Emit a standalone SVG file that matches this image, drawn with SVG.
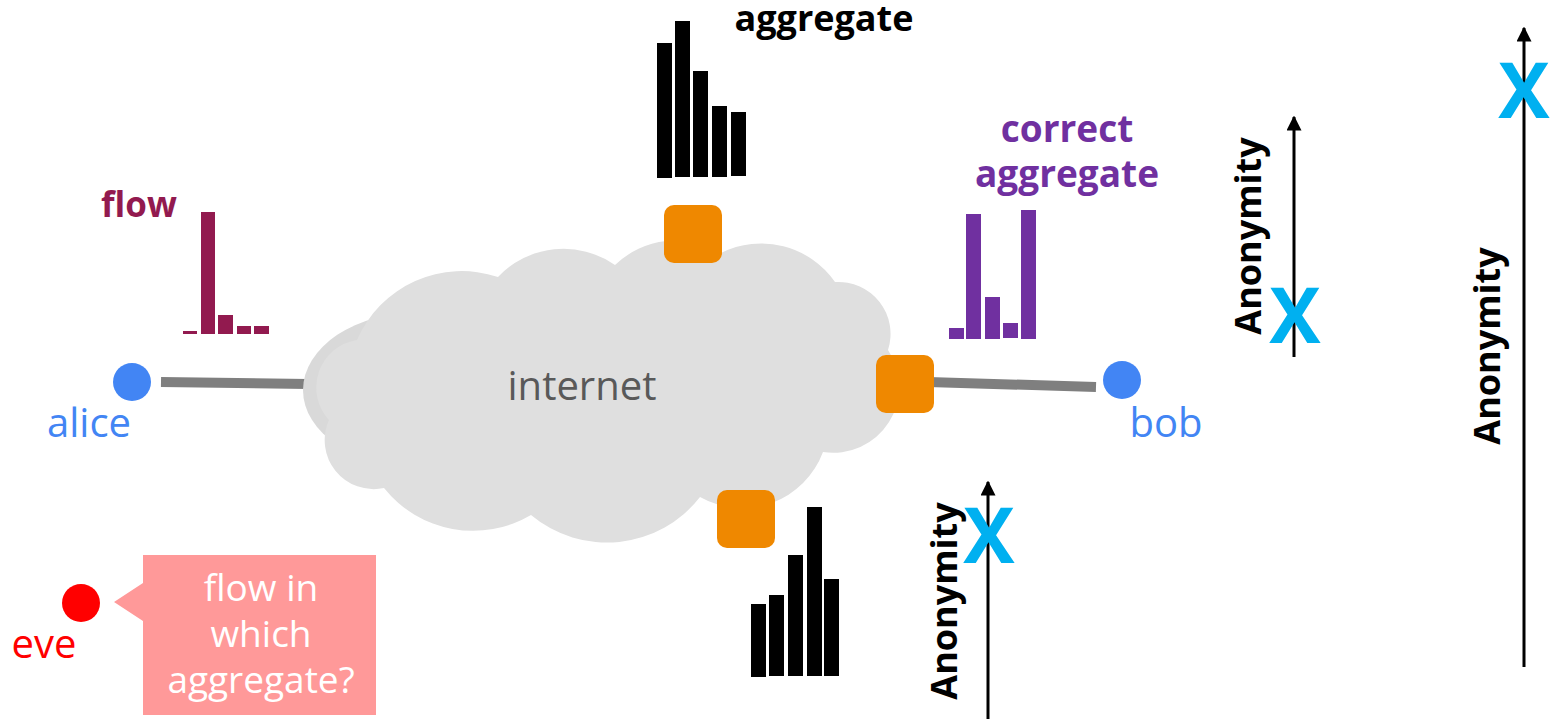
<svg xmlns="http://www.w3.org/2000/svg" width="1556" height="719" viewBox="0 0 1556 719">
  <style>
    .bold { font-family: "Open Sans", "Liberation Sans", sans-serif; font-weight: 700; }
    .reg { font-family: "Open Sans", "Liberation Sans", sans-serif; font-weight: 400; }
    .router { fill: #ef8800; }
    .link { stroke: #7f7f7f; stroke-width: 10; fill: none; }
    .axis { stroke: #000; stroke-width: 3; fill: none; marker-end: url(#head); }
    .mark { fill: #00b0f0; font-family: "Open Sans", "Liberation Sans", sans-serif; font-weight: 700; font-size: 77px; text-anchor: middle; }
    .axislabel { font-size: 36px; text-anchor: middle; fill: #000; }
  </style>
  <defs>
    <marker id="head" viewBox="0 0 10 10" refX="9" refY="5" markerWidth="5" markerHeight="5" orient="auto" markerUnits="strokeWidth">
      <path d="M0,0 L10,5 L0,10 Z" fill="#000"/>
    </marker>
  </defs>

  <!-- links -->
  <g id="connectors">
    <line class="link" x1="161" y1="382" x2="308" y2="384"/>
    <line class="link" x1="928" y1="382" x2="1096" y2="387"/>
  </g>

  <!-- internet cloud -->
  <g id="internet">
    <ellipse cx="420" cy="390" rx="117" ry="78" fill="#d9d9d9"/>
    <path fill="#dfdfdf" d="M357,340 A114,114 0 0 1 498,277 A90,90 0 0 1 615,265 A88,88 0 0 1 721,253 A90,90 0 0 1 835,282 A52,52 0 0 1 888,350 A66,66 0 0 1 823,452 A86,86 0 0 1 700,497 A118,118 0 0 1 531,515 A114,114 0 0 1 384,488 A49,49 0 0 1 329,420 A48,48 0 0 1 357,340 Z"/>
    <text class="reg" x="582" y="400" font-size="40" fill="#595959" text-anchor="middle">internet</text>
  </g>

  <!-- routers -->
  <g id="router-top"><rect class="router" x="664" y="205" width="58" height="58" rx="10"/></g>
  <g id="router-right"><rect class="router" x="876" y="355" width="58" height="58" rx="10"/></g>
  <g id="router-bottom"><rect class="router" x="717" y="490" width="58" height="58" rx="10"/></g>

  <!-- alice -->
  <g id="alice">
    <circle cx="132" cy="382" r="19" fill="#4285f4"/>
    <text class="reg" x="89" y="437" font-size="40" fill="#4285f4" text-anchor="middle">alice</text>
  </g>

  <!-- bob -->
  <g id="bob">
    <circle cx="1122" cy="380" r="19" fill="#4285f4"/>
    <text class="reg" x="1166" y="437" font-size="40" fill="#4285f4" text-anchor="middle">bob</text>
  </g>

  <!-- eve and her question -->
  <g id="eve">
    <circle cx="81" cy="603" r="19" fill="#ff0000"/>
    <text class="reg" x="44" y="658" font-size="40" fill="#ff0000" text-anchor="middle">eve</text>
  </g>
  <g id="eve-callout">
    <path d="M143,555 H376 V715 H143 V621 L114,602 L143,583 Z" fill="#ff9999"/>
    <g class="reg" font-size="37" fill="#ffffff" text-anchor="middle">
      <text x="261" y="601">flow in</text>
      <text x="261" y="647">which</text>
      <text x="261" y="693">aggregate?</text>
    </g>
  </g>

  <!-- single flow histogram -->
  <g id="flow-histogram" fill="#921a4f">
    <text class="bold" x="139" y="217" font-size="35" text-anchor="middle">flow</text>
    <rect x="183" y="331" width="14" height="3"/>
    <rect x="201" y="212" width="14" height="122"/>
    <rect x="218" y="315" width="15" height="19"/>
    <rect x="237" y="326" width="14" height="8"/>
    <rect x="254" y="326" width="15" height="8"/>
  </g>

  <!-- aggregate histogram at the top router -->
  <g id="aggregate-top" fill="#000">
    <text class="bold" x="824" y="31" font-size="36" text-anchor="middle">aggregate</text>
    <rect x="657" y="43" width="15" height="135"/>
    <rect x="675" y="21" width="15" height="156"/>
    <rect x="693" y="71" width="15" height="106"/>
    <rect x="712" y="106" width="15" height="71"/>
    <rect x="731" y="112" width="15" height="64"/>
  </g>

  <!-- correct aggregate histogram at bob's router -->
  <g id="aggregate-correct" fill="#7030a0">
    <text class="bold" x="1067" y="142" font-size="37" text-anchor="middle">correct</text>
    <text class="bold" x="1067" y="187" font-size="37" text-anchor="middle">aggregate</text>
    <rect x="949" y="328" width="15" height="11"/>
    <rect x="966" y="214" width="15" height="125"/>
    <rect x="985" y="297" width="15" height="42"/>
    <rect x="1003" y="323" width="15" height="15"/>
    <rect x="1021" y="210" width="15" height="129"/>
  </g>

  <!-- aggregate histogram at the bottom router -->
  <g id="aggregate-bottom" fill="#000">
    <rect x="751" y="604" width="15" height="73"/>
    <rect x="769" y="595" width="15" height="81"/>
    <rect x="788" y="555" width="15" height="121"/>
    <rect x="807" y="507" width="15" height="169"/>
    <rect x="824" y="579" width="15" height="97"/>
  </g>

  <!-- anonymity scales -->
  <g id="anonymity-bottom">
    <line class="axis" x1="988" y1="719" x2="988" y2="482"/>
    <text class="bold axislabel" transform="translate(957,601) rotate(-90)">Anonymity</text>
    <text class="mark" x="989" y="563">X</text>
  </g>
  <g id="anonymity-middle">
    <line class="axis" x1="1294" y1="357" x2="1294" y2="117"/>
    <text class="bold axislabel" transform="translate(1261,236) rotate(-90)">Anonymity</text>
    <text class="mark" x="1295" y="343">X</text>
  </g>
  <g id="anonymity-right">
    <line class="axis" x1="1524" y1="667" x2="1524" y2="28"/>
    <text class="bold axislabel" transform="translate(1500,346) rotate(-90)">Anonymity</text>
    <text class="mark" x="1524" y="118">X</text>
  </g>
</svg>
